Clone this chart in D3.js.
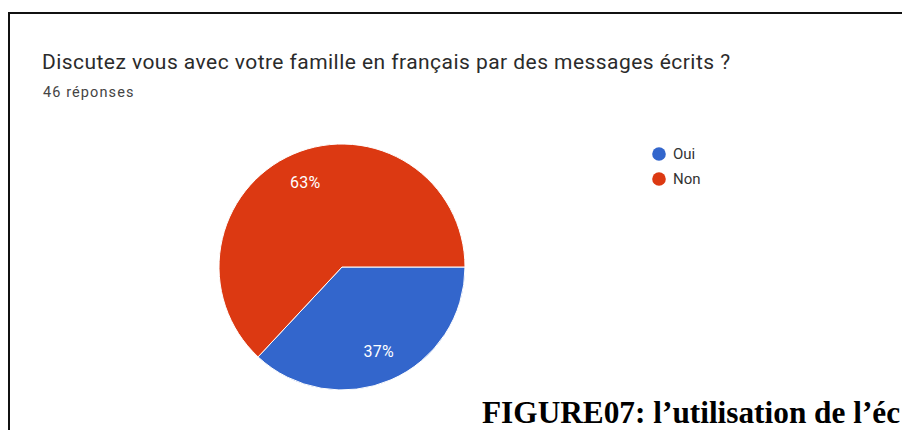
<!DOCTYPE html>
<html>
<head>
<meta charset="utf-8">
<script src="https://cdn.jsdelivr.net/npm/d3@7"></script>
<style>
  html, body { margin: 0; padding: 0; background: #fff; }
  svg { display: block; }
</style>
</head>
<body>
<svg id="chart" width="902" height="430"></svg>
<script>
// Survey answers
const categories = ["Oui", "Non"];
const counts = [17, 29];
const colors = ["#3366cc", "#dc3912"];
const title = "Discutez vous avec votre famille en français par des messages écrits ?";
const subtitle = "46 réponses";
const caption = "FIGURE07: l\u2019utilisation de l\u2019éc";

const svg = d3.select("#chart");

// Frame around the figure (top and left edges visible)
svg.append("line").attr("x1", 9).attr("y1", 13).attr("x2", 902).attr("y2", 13)
  .attr("stroke", "#111").attr("stroke-width", 2);
svg.append("line").attr("x1", 9).attr("y1", 12).attr("x2", 9).attr("y2", 430)
  .attr("stroke", "#111").attr("stroke-width", 2);

svg.append("text")
  .attr("x", 42).attr("y", 69)
  .attr("font-family", "Roboto, sans-serif")
  .attr("font-size", 21)
  .attr("letter-spacing", 0.45)
  .attr("fill", "#2b2b2b")
  .text(title);

svg.append("text")
  .attr("x", 43).attr("y", 97)
  .attr("font-family", "Roboto, sans-serif")
  .attr("font-size", 14.5)
  .attr("letter-spacing", 1.1)
  .attr("fill", "#444")
  .text(subtitle);

// Pie
const cx = 342, cy = 267, R = 123;
const data = categories.map((c, i) => ({ cat: c, value: counts[i], color: colors[i] }));
const total = d3.sum(counts);
const pie = d3.pie().value(d => d.value).sort(null)
  .startAngle(Math.PI / 2).endAngle(Math.PI / 2 + 2 * Math.PI);
const arcs = pie(data);
const arc = d3.arc().innerRadius(0).outerRadius(R);
const labelArc = d3.arc().innerRadius(R * 0.75).outerRadius(R * 0.75);

const g = svg.append("g").attr("transform", `translate(${cx},${cy})`);
g.selectAll("path").data(arcs).join("path")
  .attr("d", arc)
  .attr("fill", d => d.data.color)
  .attr("stroke", "#fff")
  .attr("stroke-width", 1);

g.selectAll("text").data(arcs).join("text")
  .attr("transform", d => `translate(${labelArc.centroid(d)})`)
  .attr("text-anchor", "middle")
  .attr("dy", "0.35em")
  .attr("font-family", "Roboto, sans-serif")
  .attr("font-size", 16)
  .attr("letter-spacing", 0.3)
  .attr("fill", "#fff")
  .text(d => Math.round(d.data.value / total * 100) + "%");

// Legend
const legend = svg.append("g").attr("transform", "translate(659,154)");
const items = legend.selectAll("g").data(data).join("g")
  .attr("transform", (d, i) => `translate(0,${i * 25})`);
items.append("circle").attr("r", 6.8).attr("fill", d => d.color);
items.append("text")
  .attr("x", 14).attr("dy", "0.36em")
  .attr("font-family", "Roboto, sans-serif")
  .attr("font-size", 15)
  .attr("fill", "#333")
  .text(d => d.cat);

// Figure caption
svg.append("text")
  .attr("x", 482).attr("y", 423)
  .attr("font-family", "'Liberation Serif', 'Times New Roman', serif")
  .attr("font-weight", "bold")
  .attr("font-size", 31.3)
  .attr("fill", "#000")
  .text(caption);
</script>
</body>
</html>
